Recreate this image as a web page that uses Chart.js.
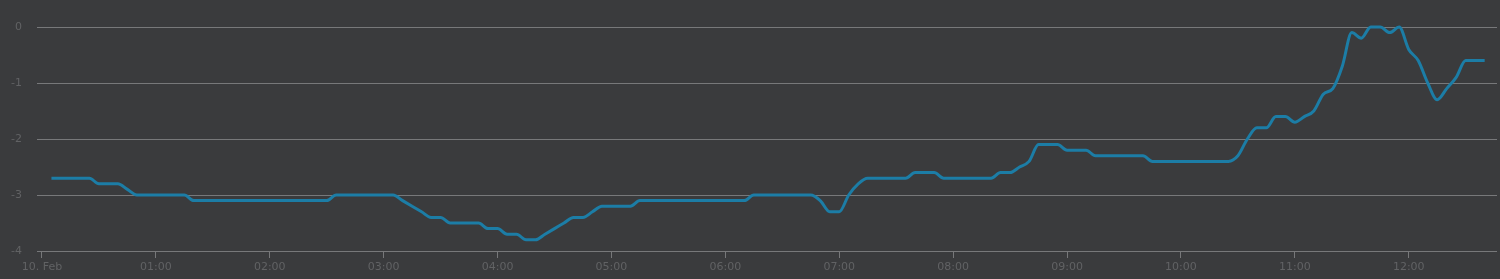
<!DOCTYPE html>
<html>
<head>
<meta charset="utf-8">
<script src="https://cdn.jsdelivr.net/npm/chart.js@4/dist/chart.umd.min.js"></script>
<style>
    html, body { margin: 0; padding: 0; background: #3a3b3d; }
    canvas { display: block; }
</style>
</head>
<body>
<canvas id="tempChart" width="1500" height="279"></canvas>
<script>
// minutes after midnight, 10. Feb
const times = [
    5, 10, 15, 20, 25, 30, 35, 40, 45, 50, 55, 60,
    65, 70, 75, 80, 85, 90, 95, 100, 105, 110, 115, 120,
    125, 130, 135, 140, 145, 150, 155, 160, 165, 170, 175, 180,
    185, 190, 195, 200, 205, 210, 215, 220, 225, 230, 235, 240,
    245, 250, 255, 260, 265, 270, 275, 280, 285, 290, 295, 300,
    305, 310, 315, 320, 325, 330, 335, 340, 345, 350, 355, 360,
    365, 370, 375, 380, 385, 390, 395, 400, 405, 410, 415, 420,
    425, 430, 435, 440, 445, 450, 455, 460, 465, 470, 475, 480,
    485, 490, 495, 500, 505, 510, 515, 520, 525, 530, 535, 540,
    545, 550, 555, 560, 565, 570, 575, 580, 585, 590, 595, 600,
    605, 610, 615, 620, 625, 630, 635, 640, 645, 650, 655, 660,
    665, 670, 675, 680, 685, 690, 695, 700, 705, 710, 715, 720,
    725, 730, 735, 740, 745, 750, 755, 760
]

const temperatures = [
    -2.7, -2.7, -2.7, -2.7, -2.7, -2.8, -2.8, -2.8, -2.9, -3.0, -3.0, -3.0,
    -3.0, -3.0, -3.0, -3.1, -3.1, -3.1, -3.1, -3.1, -3.1, -3.1, -3.1, -3.1,
    -3.1, -3.1, -3.1, -3.1, -3.1, -3.1, -3.0, -3.0, -3.0, -3.0, -3.0, -3.0,
    -3.0, -3.1, -3.2, -3.3, -3.4, -3.4, -3.5, -3.5, -3.5, -3.5, -3.6, -3.6,
    -3.7, -3.7, -3.8, -3.8, -3.7, -3.6, -3.5, -3.4, -3.4, -3.3, -3.2, -3.2,
    -3.2, -3.2, -3.1, -3.1, -3.1, -3.1, -3.1, -3.1, -3.1, -3.1, -3.1, -3.1,
    -3.1, -3.1, -3.0, -3.0, -3.0, -3.0, -3.0, -3.0, -3.0, -3.1, -3.3, -3.3,
    -3.0, -2.8, -2.7, -2.7, -2.7, -2.7, -2.7, -2.6, -2.6, -2.6, -2.7, -2.7,
    -2.7, -2.7, -2.7, -2.7, -2.6, -2.6, -2.5, -2.4, -2.1, -2.1, -2.1, -2.2,
    -2.2, -2.2, -2.3, -2.3, -2.3, -2.3, -2.3, -2.3, -2.4, -2.4, -2.4, -2.4,
    -2.4, -2.4, -2.4, -2.4, -2.4, -2.3, -2.0, -1.8, -1.8, -1.6, -1.6, -1.7,
    -1.6, -1.5, -1.2, -1.1, -0.7, -0.1, -0.2, 0, 0, -0.1, 0, -0.4,
    -0.6, -1.0, -1.3, -1.1, -0.9, -0.6, -0.6, -0.6
]

const hourTicks = [0, 60, 120, 180, 240, 300, 360, 420, 480, 540, 600, 660, 720]
const hourLabels = ["10. Feb", "01:00", "02:00", "03:00", "04:00", "05:00", "06:00",
    "07:00", "08:00", "09:00", "10:00", "11:00", "12:00"]
const yTicks = [-4, -3, -2, -1, 0]

const labelColor = "#616264"
const gridColor = "#77787a"
const lineColor = "#1c7da6"

const points = times.map((t, i) => ({ x: t, y: temperatures[i] }))

const ctx = document.getElementById("tempChart").getContext("2d")

const tempChart = new Chart(ctx, {
    type: "line",
    data: {
        datasets: [{
            data: points,
            borderColor: lineColor,
            borderWidth: 3,
            pointRadius: 0,
            fill: false,
            cubicInterpolationMode: "monotone",
            clip: false
        }]
    },
    options: {
        responsive: false,
        animation: false,
        layout: { padding: { top: 27, right: 3, left: 0, bottom: 0 } },
        plugins: {
            legend: { display: false },
            tooltip: { enabled: false }
        },
        scales: {
            x: {
                type: "linear",
                min: -2.6,
                max: 766.5,
                afterBuildTicks: (scale) => {
                    scale.ticks = hourTicks.map(v => ({ value: v }))
                },
                afterFit: (scale) => { scale.height = 28 },
                grid: {
                    drawOnChartArea: false,
                    drawTicks: true,
                    tickLength: 7,
                    color: gridColor
                },
                border: { display: false },
                ticks: {
                    autoSkip: false,
                    maxRotation: 0,
                    padding: 3,
                    color: labelColor,
                    font: { family: "DejaVu Sans", size: 11 },
                    callback: (value) => hourLabels[hourTicks.indexOf(value)]
                }
            },
            y: {
                min: -4,
                max: 0,
                afterBuildTicks: (scale) => {
                    scale.ticks = yTicks.map(v => ({ value: v }))
                },
                afterFit: (scale) => { scale.width = 37 },
                grid: {
                    drawTicks: false,
                    color: gridColor,
                    lineWidth: 1
                },
                border: { display: false },
                ticks: {
                    padding: 15,
                    color: labelColor,
                    font: { family: "DejaVu Sans", size: 11 }
                }
            }
        }
    }
})
</script>
</body>
</html>
